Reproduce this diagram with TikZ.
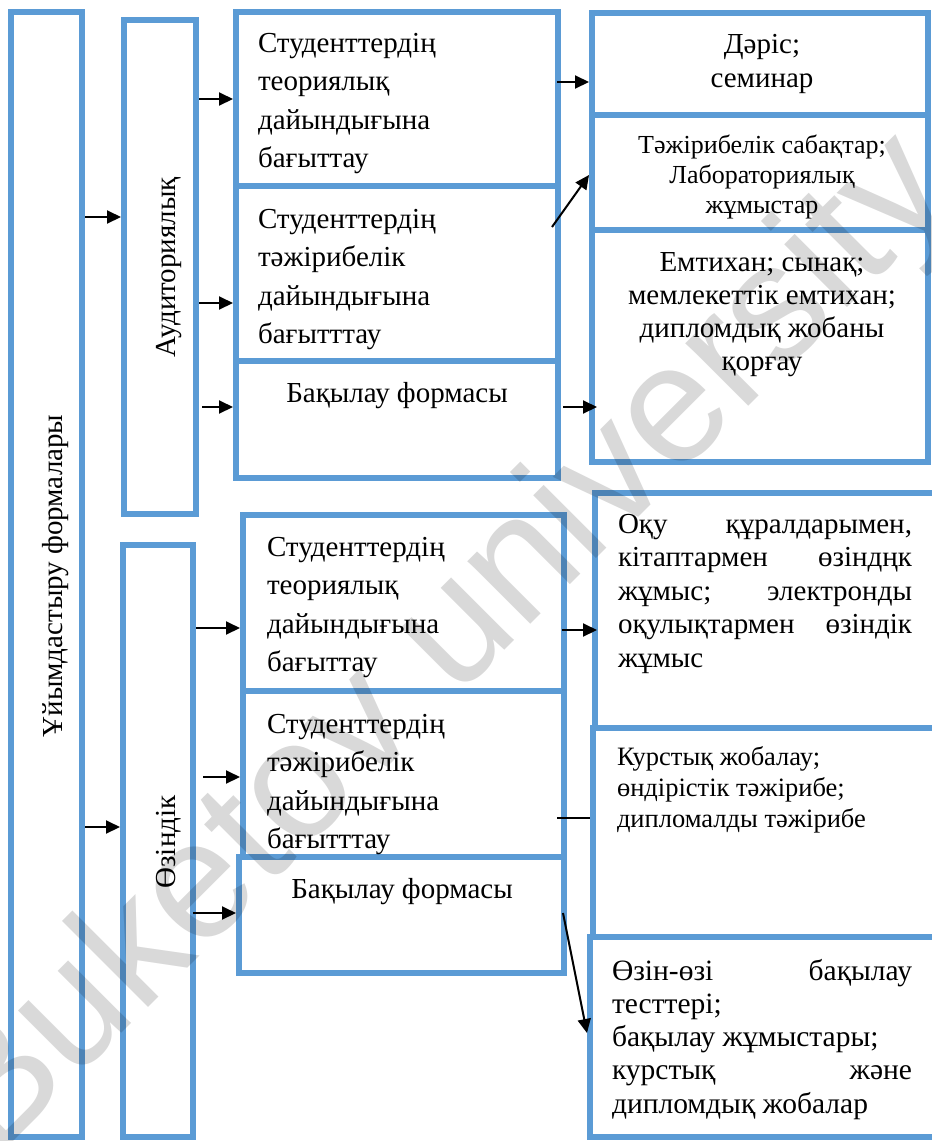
\documentclass[tikz,border=0pt]{standalone}
\usepackage{fontspec}
\setmainfont{Liberation Serif}
\newfontfamily\wmfont{Liberation Sans}
\usetikzlibrary{arrows.meta}
\definecolor{boxblue}{RGB}{91,155,213}
\begin{document}
\begin{tikzpicture}[x=1pt,y=-1pt,
  box/.style={draw=boxblue, line width=6pt, inner sep=0pt, outer sep=3pt},
  arr/.style={line width=2pt, -{Triangle[length=14pt,width=13pt]}},
  plain/.style={line width=2pt},
  txt/.style={inner sep=0pt, outer sep=0pt, text=black},
  fA/.style={font=\fontsize{29}{38.5}\selectfont},
]
\useasboundingbox (0,0) rectangle (932,1141);
% ---------- boxes ----------
\node[box, minimum width=71pt,  minimum height=1125pt] (L)   at (46.5,574.5) {};
\node[box, minimum width=72pt,  minimum height=494pt]  (Aud) at (160,267) {};
\node[box, minimum width=70pt,  minimum height=592pt]  (Oz)  at (158,841) {};
\node[box, minimum width=322pt, minimum height=174pt]  (A1)  at (397,99) {};
\node[box, minimum width=322pt, minimum height=175pt]  (A2)  at (397,273.5) {};
\node[box, minimum width=322pt, minimum height=117pt]  (A3)  at (397,419.5) {};
\node[box, minimum width=336pt, minimum height=102pt]  (R1)  at (760,64) {};
\node[box, minimum width=336pt, minimum height=115pt]  (R2)  at (760,172.5) {};
\node[box, minimum width=336pt, minimum height=232pt]  (R3)  at (760,346) {};
\node[box, minimum width=321pt, minimum height=176pt]  (B1)  at (403.5,603) {};
\node[box, minimum width=321pt, minimum height=166pt]  (B2)  at (403.5,774) {};
\node[box, minimum width=325pt, minimum height=116pt]  (B3)  at (401.5,915) {};
\node[box, minimum width=365pt, minimum height=235pt]  (S1)  at (777.5,610.5) {};
\node[box, minimum width=367pt, minimum height=209pt]  (S2)  at (776.5,832.5) {};
\node[box, minimum width=370pt, minimum height=200pt]  (S3)  at (775,1037) {};
% ---------- texts ----------
\node[txt, fA, rotate=90, anchor=base] (Lt)   at (62,576) {Ұйымдастыру формалары};
\node[txt, fA, rotate=90, anchor=base] (Audt) at (175,267.5) {Аудиториялық};
\node[txt, fA, rotate=90, anchor=base] (Ozt)  at (175,842) {Өзіндік};

\node[txt, fA, anchor=north west, align=left] (A1t) at (258,25.1)
  {\strut Студенттердің\\теориялық\\дайындығына\\бағыттау};
\node[txt, fA, anchor=north west, align=left] (A2t) at (258,201.1)
  {\strut Студенттердің\\тәжірибелік\\дайындығына\\бағытттау};
\node[txt, fA, anchor=north] (A3t) at (397,375.1) {\strut Бақылау формасы};

\node[txt, fA, anchor=north west, align=left] (B1t) at (267,529.1)
  {\strut Студенттердің\\теориялық\\дайындығына\\бағыттау};
\node[txt, fA, anchor=north west, align=left] (B2t) at (267,706.1)
  {\strut Студенттердің\\тәжірибелік\\дайындығына\\бағытттау};
\node[txt, fA, anchor=north] (B3t) at (402,871.1) {\strut Бақылау формасы};

\node[txt, font=\fontsize{29}{34}\selectfont, anchor=north, align=center] (R1t) at (762,29.2)
  {\strut Дәріс;\\семинар};
\node[txt, font=\fontsize{26}{30}\selectfont, anchor=north, align=center] (R2t) at (762,132)
  {\strut Тәжірибелік сабақтар;\\Лабораториялық\\жұмыстар};
\node[txt, font=\fontsize{29}{33.3}\selectfont, anchor=north, align=center] (R3t) at (762,247.7)
  {\strut Емтихан; сынақ;\\мемлекеттік емтихан;\\дипломдық жобаны\\қорғау};

\node[txt, font=\fontsize{29}{33.5}\selectfont, anchor=north west, text width=294pt, align=justify] (S1t) at (618,509.55)
  {\strut Оқу құралдарымен,\linebreak кітаптармен өзіндңк\linebreak жұмыс; электронды\linebreak оқулықтармен өзіндік\linebreak жұмыс};
\node[txt, font=\fontsize{26.5}{31}\selectfont, anchor=north west, align=left] (S2t) at (617,743.3)
  {\strut Курстық жобалау;\\өндірістік тәжірибе;\\дипломалды тәжірибе};
\node[txt, font=\fontsize{29.5}{33.3}\selectfont, anchor=north west, text width=300pt, align=justify] (S3t) at (612,956.7)
  {\strut Өзін-өзі бақылау\linebreak тесттері;\\бақылау жұмыстары;\\курстық және\linebreak дипломдық жобалар};
% ---------- connectors ----------
\draw[arr] (L.east |- 0,217) -- (Aud.west |- 0,217);
\draw[arr] (L.east |- 0,827) -- (Oz.west |- 0,827);
\draw[arr] (Aud.east |- 0,99) -- (A1.west |- 0,99);
\draw[arr] (Aud.east |- 0,303) -- (A2.west |- 0,303);
\draw[arr] ([xshift=3pt]Aud.east |- 0,407) -- (A3.west |- 0,407);
\draw[arr] ([xshift=-4pt]A1.east |- 0,82) -- (R1.west |- 0,82);
\coordinate (d1) at ([xshift=-9pt,yshift=-44pt]A2.north east);
\draw[arr] (d1) -- (R2.west |- 0,175);
\draw[arr] ([xshift=2pt]A3.east |- 0,407) -- ([xshift=8pt]R3.west |- 0,407);
\draw[arr] (Oz.east |- 0,628) -- (B1.west |- 0,628);
\draw[arr] ([xshift=7pt]Oz.east |- 0,777) -- (B2.west |- 0,777);
\draw[arr] ([xshift=-3pt]Oz.east |- 0,913) -- (B3.west |- 0,913);
\draw[arr] ([xshift=-5pt]B1.east |- 0,630) -- ([xshift=5pt]S1.west |- 0,630);
\draw[plain] ([xshift=-10pt]B2.east |- 0,818) -- (S2.west |- 0,818);
\draw[arr] ([xshift=-4pt]B3.east |- 0,913) -- (S3.west |- 0,1033);
% ---------- watermark ----------
\node[txt, font=\wmfont\fontsize{168}{168}\selectfont, text=black, text opacity=0.15, rotate=45] (wm) at (446,648) {Buketov university};
\end{tikzpicture}
\end{document}
